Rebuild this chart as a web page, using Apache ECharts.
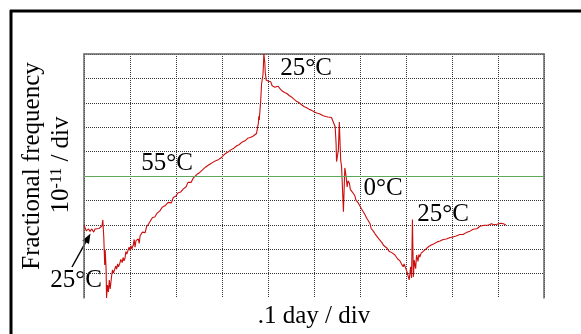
<!DOCTYPE html>
<html>
<head>
<meta charset="utf-8">
<script src="https://cdn.jsdelivr.net/npm/echarts@6.0.0/dist/echarts.min.js"></script>
<style>
  html, body { margin: 0; padding: 0; background: #fff; overflow: hidden; }
  #trend { width: 581px; height: 334px; }
</style>
</head>
<body>
<div id="trend"></div>
<script>
// [time (.1 day / div), fractional frequency (1e-11 / div)], one array per temperature step
// 25°C start and step to 55°C
const start25 = [
  [0.00, 2.99], [0.05, 2.75], [0.10, 2.83], [0.13, 2.73], [0.17, 2.83], [0.21, 2.70], [0.24, 2.83],
  [0.28, 2.77], [0.33, 2.85], [0.36, 2.81], [0.39, 2.95], [0.41, 3.20], [0.42, 2.83], [0.43, 2.50],
  [0.45, 1.35], [0.46, 1.97], [0.48, 1.23], [0.49, 0.00]
]
// 55°C ramp
const ramp55 = [
  [0.51, 0.53], [0.53, 0.25], [0.55, 0.74], [0.57, 0.37], [0.60, 0.90], [0.62, 1.15], [0.64, 1.02],
  [0.67, 0.98], [0.69, 1.30], [0.71, 1.18], [0.73, 1.40], [0.75, 1.28], [0.78, 1.43], [0.80, 1.58],
  [0.83, 1.45], [0.85, 1.66], [0.87, 1.52], [0.89, 1.62], [0.91, 1.90], [0.93, 1.80], [0.96, 1.76],
  [0.98, 2.08], [1.00, 1.95], [1.02, 2.14], [1.04, 2.02], [1.07, 2.16], [1.09, 2.40], [1.11, 2.08],
  [1.13, 2.35], [1.15, 2.28], [1.18, 2.42], [1.20, 2.24], [1.22, 2.55], [1.24, 2.47], [1.27, 2.70],
  [1.29, 2.62], [1.31, 2.78], [1.33, 2.68], [1.36, 2.93], [1.38, 2.85], [1.40, 3.02], [1.43, 2.98],
  [1.45, 3.18], [1.47, 3.10], [1.49, 3.30], [1.51, 3.22], [1.54, 3.32], [1.56, 3.25], [1.59, 3.48],
  [1.61, 3.40], [1.65, 3.57], [1.68, 3.50], [1.70, 3.72], [1.72, 3.66], [1.76, 3.78], [1.79, 3.70],
  [1.83, 3.92], [1.85, 3.84], [1.87, 3.97], [1.90, 3.90], [1.94, 4.12], [1.97, 4.05], [2.00, 4.18],
  [2.02, 4.12], [2.04, 4.30], [2.07, 4.22], [2.10, 4.34], [2.13, 4.30], [2.16, 4.47], [2.19, 4.40],
  [2.22, 4.56], [2.24, 4.50], [2.26, 4.74], [2.28, 4.66], [2.30, 4.80], [2.33, 4.74], [2.37, 4.90],
  [2.40, 4.84], [2.45, 5.06], [2.48, 5.00], [2.50, 5.12], [2.53, 5.06], [2.57, 5.24], [2.60, 5.18],
  [2.64, 5.36], [2.67, 5.28], [2.70, 5.44], [2.72, 5.38], [2.75, 5.50], [2.78, 5.42], [2.82, 5.58],
  [2.85, 5.54], [2.88, 5.64], [2.91, 5.56], [2.93, 5.68], [2.96, 5.62], [3.00, 5.78], [3.03, 5.72],
  [3.06, 5.90], [3.10, 5.84], [3.13, 5.98], [3.15, 5.90], [3.18, 6.06], [3.22, 6.00], [3.26, 6.14],
  [3.29, 6.10], [3.32, 6.24], [3.35, 6.16], [3.37, 6.28], [3.40, 6.22], [3.43, 6.38], [3.46, 6.32],
  [3.50, 6.44], [3.54, 6.38], [3.57, 6.56], [3.59, 6.48], [3.62, 6.58], [3.65, 6.52], [3.68, 6.64],
  [3.70, 6.58], [3.72, 6.70], [3.75, 6.74], [3.77, 6.95], [3.79, 7.16], [3.80, 7.45], [3.81, 7.30],
  [3.84, 8.05], [3.85, 8.10], [3.86, 8.77], [3.88, 8.80], [3.89, 9.14], [3.90, 9.51], [3.91, 10.00],
  [3.93, 9.67], [3.94, 9.26], [3.96, 8.93], [3.99, 9.00]
]
// back to 25°C, slow decline
const decline25 = [
  [4.01, 8.88], [4.04, 8.80], [4.06, 8.86], [4.09, 8.70], [4.12, 8.76], [4.15, 8.64], [4.17, 8.72],
  [4.19, 8.62], [4.22, 8.68], [4.26, 8.58], [4.29, 8.62], [4.31, 8.48], [4.33, 8.54], [4.36, 8.42],
  [4.38, 8.50], [4.41, 8.38], [4.44, 8.40], [4.46, 8.30], [4.48, 8.36], [4.51, 8.24], [4.55, 8.30],
  [4.57, 8.14], [4.60, 8.18], [4.62, 8.06], [4.65, 8.10], [4.68, 8.00], [4.70, 8.06], [4.73, 7.92],
  [4.76, 7.98], [4.79, 7.84], [4.81, 7.90], [4.84, 7.80], [4.87, 7.86], [4.89, 7.74], [4.91, 7.80],
  [4.94, 7.70], [4.98, 7.76], [5.01, 7.62], [5.04, 7.68], [5.06, 7.58], [5.09, 7.62], [5.13, 7.54],
  [5.16, 7.58], [5.19, 7.48], [5.22, 7.54], [5.25, 7.44], [5.28, 7.50], [5.31, 7.42], [5.35, 7.46],
  [5.38, 7.40], [5.42, 7.46]
]
// step to 0°C
const fall0 = [
  [5.46, 7.02], [5.48, 6.34], [5.49, 5.59], [5.53, 6.07], [5.55, 7.21], [5.58, 5.66], [5.60, 5.37],
  [5.64, 3.54], [5.67, 5.33], [5.70, 4.96], [5.72, 4.55], [5.74, 4.80], [5.77, 4.70], [5.79, 4.45],
  [5.82, 4.50], [5.85, 4.30], [5.89, 4.18], [5.91, 4.02], [5.93, 4.10], [5.96, 3.90], [6.00, 3.86],
  [6.03, 3.66], [6.07, 3.58], [6.10, 3.44], [6.13, 3.36], [6.15, 3.26], [6.18, 3.18], [6.22, 3.04],
  [6.24, 2.86], [6.26, 2.80], [6.29, 2.74], [6.33, 2.62], [6.36, 2.56], [6.41, 2.42], [6.44, 2.34],
  [6.48, 2.26], [6.51, 2.16], [6.55, 2.10], [6.59, 2.04], [6.63, 1.92], [6.66, 1.96], [6.69, 1.86],
  [6.73, 1.78], [6.76, 1.76], [6.78, 1.70], [6.82, 1.60], [6.85, 1.62], [6.87, 1.52], [6.90, 1.40],
  [6.94, 1.28], [6.96, 1.40], [6.98, 1.32], [7.02, 1.08], [7.05, 1.05], [7.07, 0.74]
]
// back to 25°C, recovery
const recover25 = [
  [7.10, 1.28], [7.12, 0.82], [7.14, 3.22], [7.16, 0.86], [7.18, 1.55], [7.20, 1.63], [7.21, 1.20],
  [7.23, 1.76], [7.25, 1.60], [7.26, 1.50], [7.28, 1.78], [7.30, 1.68], [7.33, 1.84], [7.36, 1.78],
  [7.38, 1.92], [7.41, 1.88], [7.43, 2.00], [7.46, 1.96], [7.50, 2.12], [7.52, 2.06], [7.56, 2.18],
  [7.59, 2.12], [7.61, 2.22], [7.65, 2.16], [7.68, 2.30], [7.70, 2.26], [7.74, 2.34], [7.78, 2.28],
  [7.81, 2.40], [7.85, 2.34], [7.88, 2.42], [7.91, 2.36], [7.96, 2.48], [7.99, 2.42], [8.02, 2.50],
  [8.06, 2.44], [8.09, 2.54], [8.13, 2.50], [8.17, 2.60], [8.20, 2.52], [8.24, 2.60], [8.28, 2.56],
  [8.31, 2.68], [8.35, 2.62], [8.39, 2.74], [8.43, 2.70], [8.46, 2.82], [8.50, 2.74], [8.54, 2.84],
  [8.57, 2.80], [8.61, 2.94], [8.65, 2.88], [8.70, 2.98], [8.74, 2.92], [8.78, 2.98], [8.82, 2.96],
  [8.86, 3.04], [8.91, 3.00], [8.95, 3.08], [8.98, 3.02], [9.02, 3.10], [9.06, 3.06], [9.09, 3.14],
  [9.12, 3.04], [9.17, 2.99]
]
// reference level (green line)
const refLevel = 5
// temperature labels: text and centre in px
const tempLabels = [
  { text: '25°C', x: 306, y: 68 },
  { text: '55°C', x: 167, y: 163 },
  { text: '0°C', x: 383, y: 188 },
  { text: '25°C', x: 443, y: 214 },
  { text: '25°C', x: 76, y: 280 }
]

const serif = '"Liberation Serif", "DejaVu Serif", serif'
const myChart = echarts.init(document.getElementById('trend'))

// 箭头 (arrow from the bottom-left label)
const arrowFrom = [72, 267]
const arrowTo = [90.5, 233.5]
const makeArrow = () => {
  const dx = arrowTo[0] - arrowFrom[0]
  const dy = arrowTo[1] - arrowFrom[1]
  const len = Math.sqrt(dx * dx + dy * dy)
  const ux = dx / len, uy = dy / len
  const bx = arrowTo[0] - ux * 10, by = arrowTo[1] - uy * 10
  return [
    {
      type: 'line',
      shape: { x1: arrowFrom[0], y1: arrowFrom[1], x2: bx, y2: by },
      style: { stroke: '#000', lineWidth: 1.5 }
    },
    {
      type: 'polygon',
      shape: {
        points: [
          arrowTo,
          [bx - uy * 3.8, by + ux * 3.8],
          [bx + uy * 3.8, by - ux * 3.8]
        ]
      },
      style: { fill: '#000' }
    }
  ]
}

const labelGraphics = tempLabels.map((item) => ({
  type: 'text',
  x: item.x,
  y: item.y,
  style: {
    text: item.text,
    font: '25px ' + serif,
    fill: '#000',
    textAlign: 'center',
    textVerticalAlign: 'middle'
  }
}))

const traceData = [...start25, ...ramp55, ...decline25, ...fall0, ...recover25]

const option = {
  backgroundColor: '#fff',
  animation: false,
  grid: { left: 84, top: 54, right: 37, bottom: 36 },
  xAxis: [
    {
      type: 'value',
      min: 0,
      max: 10,
      interval: 1,
      name: '.1 day / div',
      nameLocation: 'middle',
      nameGap: 6,
      nameTextStyle: { fontFamily: serif, fontSize: 25, color: '#000' },
      axisLine: { show: false },
      axisTick: { show: false },
      axisLabel: { show: false },
      splitLine: { show: true, lineStyle: { type: 'dotted', color: '#333', width: 1 } }
    },
    {
      type: 'value',
      position: 'top',
      min: 0,
      max: 10,
      axisLine: { show: true, onZero: false, lineStyle: { color: '#666', width: 1.5 } },
      axisTick: { show: false },
      axisLabel: { show: false },
      splitLine: { show: false }
    }
  ],
  yAxis: [
    {
      type: 'value',
      min: 0,
      max: 10,
      interval: 1,
      axisLine: { show: true, onZero: false, lineStyle: { color: '#666', width: 1.5 } },
      axisTick: { show: false },
      axisLabel: { show: false },
      splitLine: {
        show: true,
        showMinLine: false,
        lineStyle: { type: 'dotted', color: '#333', width: 1 }
      }
    },
    {
      type: 'value',
      position: 'right',
      min: 0,
      max: 10,
      axisLine: { show: true, onZero: false, lineStyle: { color: '#666', width: 1.5 } },
      axisTick: { show: false },
      axisLabel: { show: false },
      splitLine: { show: false }
    }
  ],
  series: [
    {
      type: 'line',
      data: traceData,
      showSymbol: false,
      symbol: 'none',
      lineStyle: { color: '#cc0d0d', width: 1.1 },
      z: 3,
      markLine: {
        silent: true,
        symbol: 'none',
        label: { show: false },
        lineStyle: { color: '#5fa85a', type: 'solid', width: 1 },
        data: [{ yAxis: refLevel }]
      }
    }
  ],
  graphic: [
    // 外框 (top and left frame)
    { type: 'line', shape: { x1: 10, y1: 11, x2: 581, y2: 11 }, style: { stroke: '#000', lineWidth: 3 } },
    { type: 'line', shape: { x1: 11, y1: 10, x2: 11, y2: 334 }, style: { stroke: '#000', lineWidth: 3 } },
    // y axis title
    {
      type: 'text',
      x: 32,
      y: 166,
      rotation: Math.PI / 2,
      style: {
        text: 'Fractional frequency',
        font: '25px ' + serif,
        fill: '#000',
        textAlign: 'center',
        textVerticalAlign: 'middle'
      }
    },
    {
      type: 'text',
      x: 61,
      y: 165,
      rotation: Math.PI / 2,
      style: {
        text: '10{sup|-11} / div',
        font: '25px ' + serif,
        fill: '#000',
        textAlign: 'center',
        textVerticalAlign: 'middle',
        rich: {
          sup: { fontFamily: serif, fontSize: 16, verticalAlign: 'top', padding: [0, 0, 8, 0] }
        }
      }
    },
    ...labelGraphics,
    ...makeArrow()
  ]
}
myChart.setOption(option)
</script>
</body>
</html>
